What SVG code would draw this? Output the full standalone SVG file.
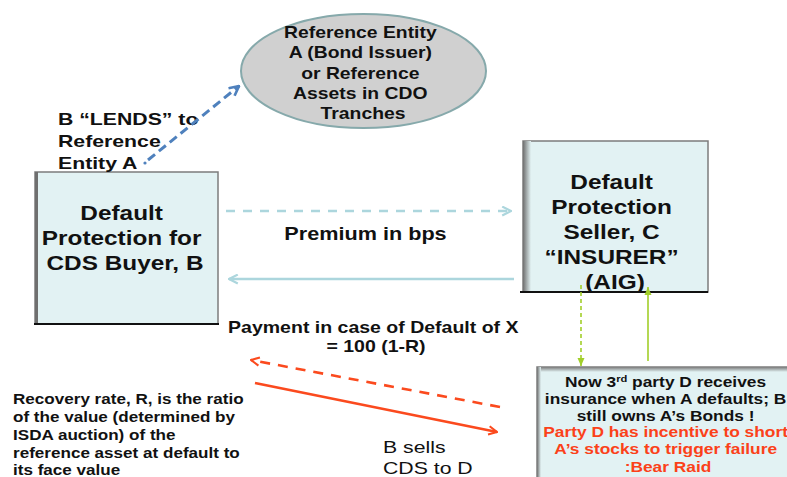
<svg xmlns="http://www.w3.org/2000/svg" width="787" height="477" viewBox="0 0 787 477">
  <style>
    .t { font-family: "Liberation Sans", Arial, sans-serif; font-weight: bold; fill: #111; }
    .r { font-family: "Liberation Sans", Arial, sans-serif; font-weight: normal; fill: #111; }
    .red { fill: #fb4119; }
    .box { fill: #e2f2f3; stroke: #7c7c7c; stroke-width: 1.5; }
    .blue { stroke: #4f81bd; stroke-width: 3; fill: none; stroke-dasharray: 9 5; }
    .cyan { stroke: #acd6dd; stroke-width: 2.5; fill: none; }
    .green { stroke: #a2cf2a; stroke-width: 1.6; fill: none; }
    .orange { stroke: #fb4a1e; stroke-width: 2.6; fill: none; }
  </style>
  <defs>
    <linearGradient id="edgeL" x1="0" y1="0" x2="1" y2="0">
      <stop offset="0" stop-color="#6f6f6f"/>
      <stop offset="1" stop-color="#e2f2f3"/>
    </linearGradient>
    <linearGradient id="edgeT" x1="0" y1="0" x2="0" y2="1">
      <stop offset="0" stop-color="#7a7a7a"/>
      <stop offset="1" stop-color="#e2f2f3"/>
    </linearGradient>
    <marker id="mBlue" viewBox="0 0 10 10" refX="9" refY="5" markerWidth="4" markerHeight="4" orient="auto" markerUnits="strokeWidth">
      <path d="M1,1 L9,5 L1,9" fill="none" stroke="#4f81bd" stroke-width="2.2"/>
    </marker>
    <marker id="mCyan" viewBox="0 0 10 10" refX="9" refY="5" markerWidth="4.4" markerHeight="4.4" orient="auto" markerUnits="strokeWidth">
      <path d="M1,1 L9,5 L1,9" fill="none" stroke="#acd6dd" stroke-width="2"/>
    </marker>
    <marker id="mGreen" viewBox="0 0 10 10" refX="9" refY="5" markerWidth="5.5" markerHeight="5.5" orient="auto" markerUnits="strokeWidth">
      <path d="M0,1 L9,5 L0,9 Z" fill="#a2cf2a"/>
    </marker>
    <marker id="mOrange" viewBox="0 0 10 10" refX="9" refY="5" markerWidth="4" markerHeight="4" orient="auto" markerUnits="strokeWidth">
      <path d="M1,1 L9,5 L1,9" fill="none" stroke="#fb4a1e" stroke-width="2"/>
    </marker>
  </defs>

  <!-- reference entity -->
  <g id="entityA">
    <ellipse cx="363.5" cy="71" rx="122.5" ry="57" fill="#d0d0d0" stroke="#86a9ab" stroke-width="2"/>
    <g transform="translate(363 0) scale(1.21 1)">
      <text class="t" font-size="16" text-anchor="middle">
        <tspan x="0" y="38">Reference Entity</tspan>
        <tspan x="0" y="58.5">A (Bond Issuer)</tspan>
        <tspan x="0" y="79">or Reference</tspan>
        <tspan x="0" y="99">Assets in CDO</tspan>
        <tspan x="0" y="119">Tranches</tspan>
      </text>
    </g>
  </g>

  <!-- CDS buyer -->
  <g id="buyerB">
    <rect class="box" x="35" y="172" width="183" height="152"/>
    <rect x="35" y="172" width="3" height="152" fill="#6f6f6f"/>
    <line x1="34" y1="324" x2="219" y2="324" stroke="#111" stroke-width="2"/>
    <g transform="translate(125 0) scale(1.16 1)">
      <text class="t" font-size="21" text-anchor="middle">
        <tspan x="0" y="220.5">Default</tspan>
        <tspan x="0" y="245.5">Protection for</tspan>
        <tspan x="0" y="270.5">CDS Buyer, B</tspan>
      </text>
    </g>
  </g>

  <!-- protection seller -->
  <g id="sellerC">
    <rect class="box" x="523" y="141" width="185" height="151"/>
    <rect x="523" y="141" width="8" height="151" fill="url(#edgeL)"/>
    <line x1="520" y1="292" x2="708" y2="292" stroke="#111" stroke-width="1.8"/>
    <g transform="translate(615 0) scale(1.22 1)">
      <text class="t" font-size="20" text-anchor="middle">
        <tspan x="0" y="189">Default</tspan>
        <tspan x="0" y="214">Protection</tspan>
        <tspan x="0" y="239">Seller, C</tspan>
        <tspan x="0" y="264">“INSURER”</tspan>
        <tspan x="0" y="289">(AIG)</tspan>
      </text>
    </g>
  </g>

  <!-- third party D -->
  <g id="partyD">
    <rect class="box" x="537" y="367" width="262" height="120"/>
    <rect x="537" y="367" width="262" height="5" fill="url(#edgeT)"/>
    <rect x="537" y="367" width="4" height="120" fill="url(#edgeL)"/>
    <g transform="translate(668 0) scale(1.24 1)">
      <text class="t" font-size="14" text-anchor="middle">
        <tspan x="0" y="387">Now 3<tspan font-size="9" dy="-5">rd</tspan><tspan dy="5"> party D receives</tspan></tspan>
        <tspan x="0" y="404">insurance when A defaults; B</tspan>
        <tspan x="0" y="421">still owns A’s Bonds !</tspan>
        <tspan class="red" x="0" y="437.5">Party D has incentive to short</tspan>
        <tspan class="red" x="0" y="454.5">A’s stocks to trigger failure</tspan>
        <tspan class="red" x="0" y="472.5">:Bear Raid</tspan>
      </text>
    </g>
  </g>

  <!-- free labels -->
  <g id="lendsLabel" transform="translate(58 0) scale(1.25 1)">
    <text class="t" font-size="17">
      <tspan x="0" y="125">B “LENDS” to</tspan>
      <tspan x="0" y="147.5">Reference</tspan>
      <tspan x="0" y="169">Entity A</tspan>
    </text>
  </g>
  <g id="premiumLabel" transform="translate(365.5 0) scale(1.17 1)">
    <text class="t" font-size="18.5" text-anchor="middle" x="0" y="240">Premium in bps</text>
  </g>
  <g id="paymentLabel" transform="translate(376 0) scale(1.22 1)">
    <text class="t" font-size="16" text-anchor="middle">
      <tspan x="0" y="333">Payment in case of Default of X</tspan>
      <tspan x="0" y="352">= 100 (1-R)</tspan>
    </text>
  </g>
  <g id="recoveryNote" transform="translate(13 0) scale(1.22 1)">
    <text class="t" font-size="14">
      <tspan x="0" y="404">Recovery rate, R, is the ratio</tspan>
      <tspan x="0" y="422">of the value (determined by</tspan>
      <tspan x="0" y="440">ISDA auction) of the</tspan>
      <tspan x="0" y="458">reference asset at default to</tspan>
      <tspan x="0" y="475">its face value</tspan>
    </text>
  </g>
  <g id="sellsLabel" transform="translate(383 0) scale(1.25 1)">
    <text class="r" font-size="17">
      <tspan x="0" y="453">B sells</tspan>
      <tspan x="0" y="474">CDS to D</tspan>
    </text>
  </g>

  <!-- connectors -->
  <g id="connectors">
    <circle cx="145" cy="163" r="1.6" fill="#4f81bd"/>
    <line class="blue" x1="148" y1="160" x2="239" y2="86" marker-end="url(#mBlue)"/>
    <line class="cyan" x1="226" y1="211" x2="511" y2="211" stroke-dasharray="9 8" marker-end="url(#mCyan)"/>
    <line class="cyan" x1="514" y1="279" x2="229" y2="279" marker-end="url(#mCyan)"/>
    <line class="green" x1="581" y1="285" x2="581" y2="366" stroke-dasharray="4 3" marker-end="url(#mGreen)"/>
    <line class="green" x1="648" y1="361" x2="648" y2="287" marker-end="url(#mGreen)"/>
    <line class="orange" x1="500" y1="407" x2="251" y2="360" stroke-dasharray="10 8" marker-end="url(#mOrange)"/>
    <line class="orange" x1="255" y1="383" x2="497" y2="432" marker-end="url(#mOrange)"/>
  </g>
</svg>
